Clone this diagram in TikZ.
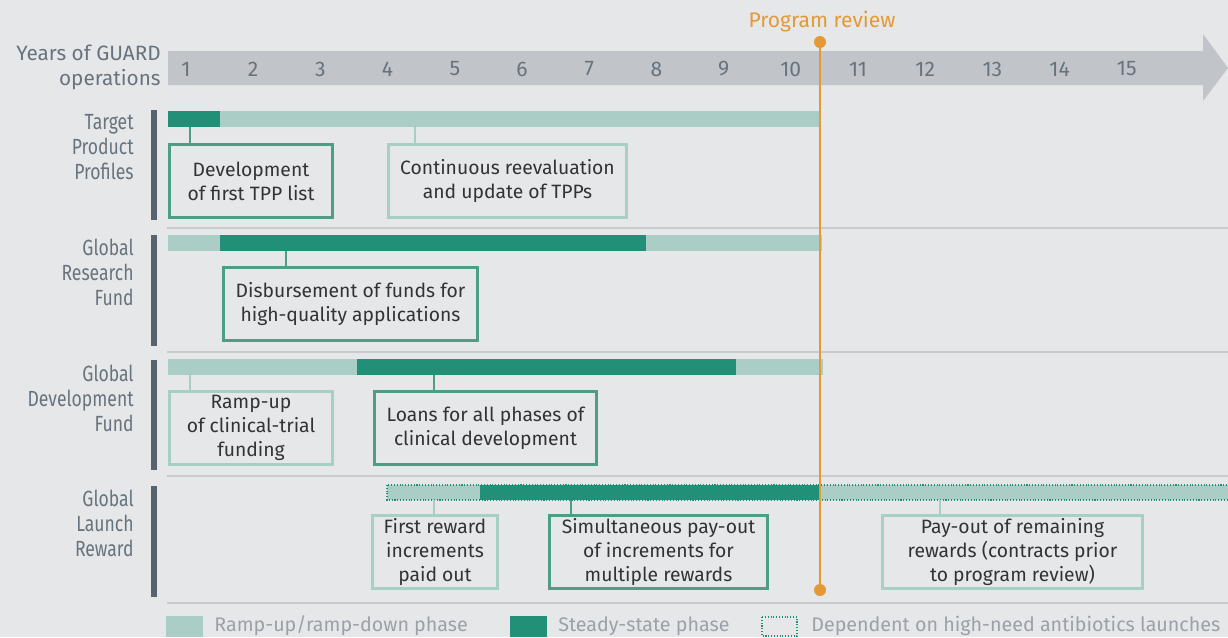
\documentclass[tikz,border=0pt]{standalone}
\usepackage{fontspec}
\setmainfont{Fira Sans}
\newfontfamily\narrowfont[FakeStretch=0.8]{Fira Sans}
\usetikzlibrary{positioning}

\definecolor{bgcol}{HTML}{E6E7E9}
\definecolor{axiscol}{HTML}{C1C4C8}
\definecolor{steady}{HTML}{229077}
\definecolor{ramp}{HTML}{AACEC5}
\definecolor{boxdark}{HTML}{4C9E86}
\definecolor{boxlight}{HTML}{A5D0C3}
\definecolor{review}{HTML}{E39A36}
\definecolor{labelcol}{HTML}{68737D}
\definecolor{rowmarkcol}{HTML}{58636D}
\definecolor{sepcol}{HTML}{C8CACE}
\definecolor{legendtext}{HTML}{9BA1A7}
\definecolor{boxtext}{HTML}{333333}

\begin{document}
\begin{tikzpicture}[x=0.02cm, y=-0.02cm,
    font=\fontsize{11}{13.6}\selectfont,
    box/.style={draw=boxdark, line width=1.7pt, align=center, text=boxtext, inner sep=0pt, minimum height=1.46cm},
    lightbox/.style={box, draw=boxlight},
    stem/.style={draw=boxdark, line width=1.2pt},
    lightstem/.style={stem, draw=boxlight},
    rowlabel/.style={anchor=east, align=right, inner sep=0pt, text=labelcol, font=\narrowfont\fontsize{12.5}{14.2}\selectfont},
    year/.style={text=labelcol, font=\fontsize{12}{14}\selectfont},
    sep/.style={draw=sepcol, line width=1.2pt},
    rowmark/.style={fill=rowmarkcol},
    legendlabel/.style={anchor=west, inner sep=0pt, text=legendtext, font=\fontsize{11.2}{14}\selectfont}]
  \fill[bgcol] (0,0) rectangle (1228,637);
  \useasboundingbox (0,0) rectangle (1228,637);

  % time axis
  \fill[axiscol] (168,51) -- (1203,51) -- (1203,34) -- (1228,68) -- (1203,101) -- (1203,85) -- (168,85) -- cycle;
  \node[rowlabel, font=\fontsize{11.8}{14.2}\selectfont] (axislabel) at (161,67) {Years of GUARD\\operations};
  \foreach \n in {1,...,15}
    \node[year] (yr\n) at ({186+67.2*(\n-1)}, 69) {\n};

  % separators
  \foreach \y in {228,352,476,603}
    \draw[sep] (167,\y) -- (1228,\y);

  % row labels and marks
  \fill[rowmark] (151,110) rectangle (157,220);
  \fill[rowmark] (151,235) rectangle (157,346);
  \fill[rowmark] (151,360) rectangle (157,470);
  \fill[rowmark] (151,486) rectangle (157,597);
  \node[rowlabel] (tpp) at (134,147) {Target\\Product\\Profiles};
  \node[rowlabel] (grf) at (134,272) {Global\\Research\\Fund};
  \node[rowlabel] (gdf) at (134,398) {Global\\Development\\Fund};
  \node[rowlabel] (glr) at (134,523) {Global\\Launch\\Reward};

  % bars
  \fill[steady] (168,111) rectangle (220,127);
  \fill[ramp] (220,111) rectangle (821,127);
  \fill[ramp] (168,235) rectangle (220,251);
  \fill[steady] (220,235) rectangle (646,251);
  \fill[ramp] (646,235) rectangle (822,251);
  \fill[ramp] (168,359) rectangle (357,375);
  \fill[steady] (357,359) rectangle (736,375);
  \fill[ramp] (736,359) rectangle (823,375);
  \filldraw[fill=ramp, draw=steady, densely dotted, line width=0.6pt] (387,485) rectangle (1232,500);
  \fill[steady] (480,485) rectangle (820,500);

  % boxes
  \node[box, minimum width=3.26cm] (tppdev) at (251,181) {Development\\of first TPP list};
  \node[lightbox, minimum width=4.76cm] (tppupd) at (507.5,181) {Continuous reevaluation\\and update of TPPs};
  \node[box, minimum width=5.08cm] (grfdis) at (350.5,304) {Disbursement of funds for\\high-quality applications};
  \node[lightbox, minimum width=3.26cm] (gdframp) at (251,428) {Ramp-up\\of clinical-trial\\funding};
  \node[box, minimum width=4.44cm] (gdfloan) at (485.5,428) {Loans for all phases of\\clinical development};
  \node[lightbox, minimum width=2.5cm] (glrfirst) at (435,552) {First reward\\increments\\paid out};
  \node[box, minimum width=4.36cm] (glrsim) at (658.5,552) {Simultaneous pay-out\\of increments for\\multiple rewards};
  \node[lightbox, minimum width=5.2cm] (glrrest) at (1012.5,552) {Pay-out of remaining\\rewards (contracts prior\\to program review)};

  % stems
  \coordinate (s1) at (190,127);
  \coordinate (s2) at (415,127);
  \coordinate (s3) at (286,251);
  \coordinate (s4) at (190,375);
  \coordinate (s5) at (434,375);
  \coordinate (s6) at (434,500);
  \coordinate (s7) at (571,500);
  \coordinate (s8) at (940,500);
  \draw[stem] (s1) -- (s1 |- tppdev.north);
  \draw[lightstem] (s2) -- (s2 |- tppupd.north);
  \draw[stem] (s3) -- (s3 |- grfdis.north);
  \draw[lightstem] (s4) -- (s4 |- gdframp.north);
  \draw[stem] (s5) -- (s5 |- gdfloan.north);
  \draw[lightstem] (s6) -- (s6 |- glrfirst.north);
  \draw[stem] (s7) -- (s7 |- glrsim.north);
  \draw[lightstem] (s8) -- (s8 |- glrrest.north);

  % program review
  \coordinate (revtop) at (820,42);
  \coordinate (revbot) at (820,590);
  \draw[review, line width=1.2pt] (revtop) -- (revbot);
  \fill[review] (revtop) circle (0.12cm);
  \fill[review] (revbot) circle (0.12cm);
  \node[text=review, font=\fontsize{12}{14}\selectfont] (revlabel) at (822,22) {Program review};

  % legend
  \fill[ramp] (166,616) rectangle (203,637);
  \node[legendlabel] (legramp) at (214,626) {Ramp-up/ramp-down phase};
  \fill[steady] (510,616) rectangle (547,637);
  \node[legendlabel] (legsteady) at (558,626) {Steady-state phase};
  \draw[steady, densely dotted, line width=0.6pt] (762,617) rectangle (797,636);
  \node[legendlabel] (legdep) at (811,626) {Dependent on high-need antibiotics launches};
\end{tikzpicture}
\end{document}
